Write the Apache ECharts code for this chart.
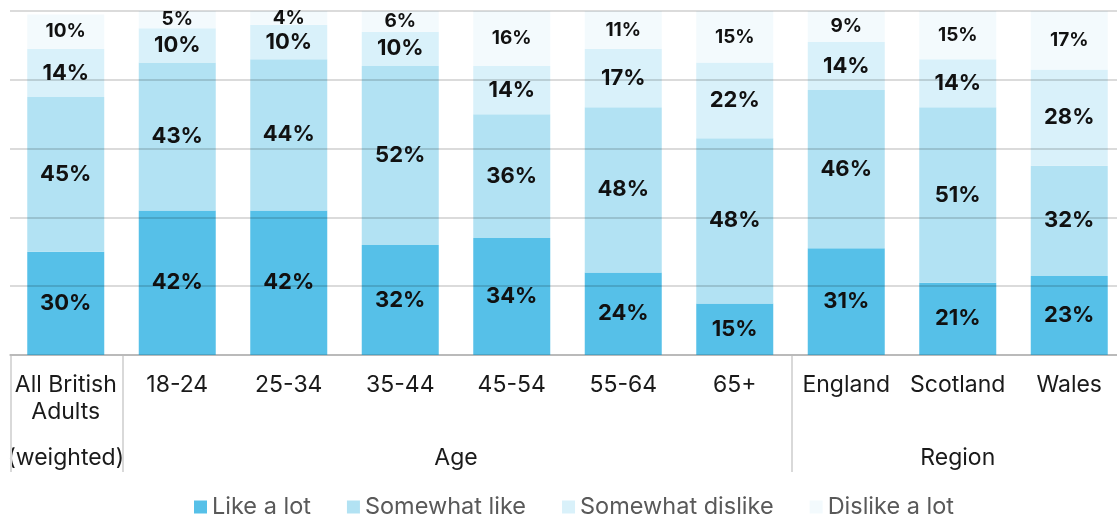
<!DOCTYPE html>
<html>
<head>
<meta charset="utf-8">
<script src="https://cdn.jsdelivr.net/npm/echarts@6/dist/echarts.min.js"></script>
<style>
  html, body { margin: 0; padding: 0; background: #ffffff; }
  #chart { width: 1117px; height: 519px; }
</style>
</head>
<body>
<div id="chart"></div>
<script>
// Categories along the x axis
const categories = ['All British\nAdults', '18-24', '25-34', '35-44', '45-54', '55-64', '65+', 'England', 'Scotland', 'Wales'];

// Share of respondents (%) per answer
const likeALot        = [30, 42, 42, 32, 34, 24, 15, 31, 21, 23];
const somewhatLike    = [45, 43, 44, 52, 36, 48, 48, 46, 51, 32];
const somewhatDislike = [14, 10, 10, 10, 14, 17, 22, 14, 14, 28];
const dislikeALot     = [10,  5,  4,  6, 16, 11, 15,  9, 15, 17];

const seriesNames = ['Like a lot', 'Somewhat like', 'Somewhat dislike', 'Dislike a lot'];

// Second-level grouping under the category labels
const groupLabels = ['(weighted)', 'Age', 'Region'];
const groupStarts = [0, 1, 7];
const groupEnds   = [0, 6, 9];

// Value axis ticks (percent)
const yMin = 0, yMax = 100, yStep = 20;

const colors = ['#56c0e8', '#b2e2f3', '#d9f1fa', '#f3fafd'];
const FONT = 'Inter, "Noto Sans", sans-serif';

const chart = echarts.init(document.getElementById('chart'), null, { renderer: 'canvas' });

function makeSeries(name, data, idx) {
  return {
    name: name,
    type: 'bar',
    stack: 'total',
    data: data,
    barWidth: 77,
    itemStyle: { color: colors[idx] },
    label: {
      show: true,
      position: 'inside',
      formatter: p => p.value + '%',
      color: '#111111',
      fontFamily: FONT,
      fontWeight: 'bold',
      fontSize: idx === 3 ? 19 : 22
    },
    emphasis: { disabled: true }
  };
}

const option = {
  animation: false,
  backgroundColor: '#ffffff',
  // the plot area runs a little past the right edge of the canvas
  grid: { left: 10, width: 1115, top: 11, bottom: 164, containLabel: false, outerBoundsMode: 'none' },
  legend: {
    left: 189,
    top: 490,
    itemWidth: 13,
    itemHeight: 13,
    itemGap: 36,
    icon: 'rect',
    textStyle: { fontFamily: FONT, fontSize: 23.5, color: '#595959' },
    data: seriesNames
  },
  xAxis: {
    type: 'category',
    data: categories,
    axisLine: { show: true, lineStyle: { color: '#d9d9d9', width: 2 } },
    axisTick: { show: false },
    axisLabel: {
      interval: 0,
      margin: 17,
      fontFamily: FONT,
      fontSize: 23,
      lineHeight: 27,
      color: '#1a1a1a'
    }
  },
  yAxis: {
    type: 'value',
    min: yMin,
    max: yMax,
    interval: yStep,
    z: 10,
    axisLine: { show: false },
    axisTick: { show: false },
    axisLabel: { show: false },
    splitLine: { show: true, lineStyle: { color: 'rgba(0,0,0,0.14)', width: 2 } }
  },
  series: [
    makeSeries(seriesNames[0], likeALot, 0),
    makeSeries(seriesNames[1], somewhatLike, 1),
    makeSeries(seriesNames[2], somewhatDislike, 2),
    makeSeries(seriesNames[3], dislikeALot, 3)
  ]
};

chart.setOption(option);

// Group separators and group captions, placed through the category axis scale
const x0 = chart.convertToPixel({ xAxisIndex: 0 }, categories[0]);
const x1 = chart.convertToPixel({ xAxisIndex: 0 }, categories[1]);
const half = (x1 - x0) / 2;
const baseY = chart.convertToPixel({ yAxisIndex: 0 }, yMin);
const graphics = [];
const sepBounds = new Set();
groupStarts.forEach((s, i) => {
  const left = chart.convertToPixel({ xAxisIndex: 0 }, categories[s]) - half;
  const right = chart.convertToPixel({ xAxisIndex: 0 }, categories[groupEnds[i]]) + half;
  sepBounds.add(Math.round(left));
  sepBounds.add(Math.round(right));
  graphics.push({
    type: 'text',
    x: (left + right) / 2,
    y: baseY + 103,
    style: {
      text: groupLabels[i],
      fontFamily: FONT,
      fontSize: 23,
      fill: '#1a1a1a',
      align: 'center',
      verticalAlign: 'middle'
    }
  });
});
sepBounds.forEach(x => {
  graphics.push({
    type: 'line',
    shape: { x1: x + 1, y1: baseY, x2: x + 1, y2: baseY + 117 },
    style: { stroke: '#d9d9d9', lineWidth: 2 }
  });
});
chart.setOption({ graphic: graphics });
</script>
</body>
</html>
